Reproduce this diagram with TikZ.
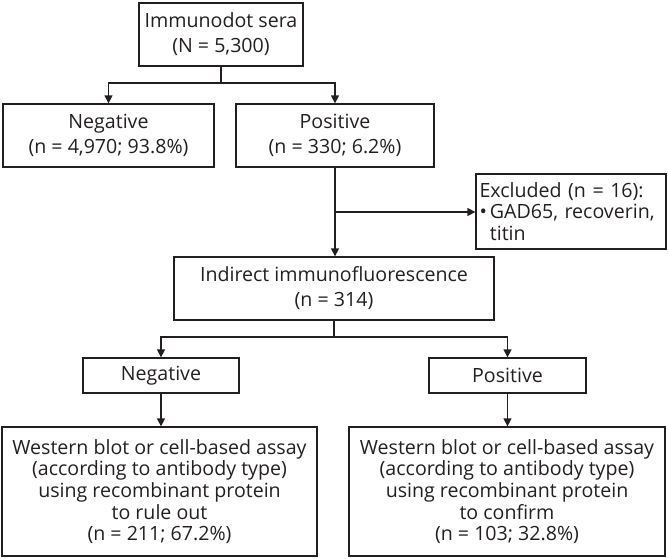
\documentclass[tikz,border=0pt]{standalone}
\usepackage{fontspec}
\setmainfont{Open Sans}
\usetikzlibrary{arrows.meta}
\definecolor{ink}{HTML}{231F20}
\begin{document}
\begin{tikzpicture}[x=1pt,y=-1pt,
  box/.style={draw=ink, line width=1.3pt, inner sep=0pt, align=center, text=ink,
    font=\fontsize{19.6}{25}\selectfont},
  bigbox/.style={box, font=\fontsize{19.6}{21.7}\selectfont},
  conn/.style={draw=ink, line width=1.3pt},
  arr/.style={conn, -{Triangle[width=8pt,length=8pt]}}
]
\useasboundingbox (0,0) rectangle (668,558);

\node[box, minimum width=164pt, minimum height=63pt] (top) at (221,34.5) {Immunodot sera\\(N = 5,300)};
\node[box, minimum width=211pt, minimum height=63pt] (neg1) at (108.5,135.5) {Negative\\(n = 4,970; 93.8\%)};
\node[box, minimum width=198pt, minimum height=63pt] (pos1) at (335,135.5) {Positive\\(n = 330; 6.2\%)};
\node[box, minimum width=190pt, minimum height=75pt, align=left, text width=183pt,
  font=\fontsize{19.6}{22}\selectfont] (exc) at (571,211.5)
  {Excluded (n = 16):\\[-1pt]•\hspace{3pt}GAD65, recoverin,\\\phantom{•}\hspace{3pt}titin};
\node[box, minimum width=320pt, minimum height=63pt] (ind) at (334,288.5) {Indirect immunofluorescence\\(n = 314)};
\node[box, minimum width=156pt, minimum height=35pt] (neg2) at (161,375.5) {Negative};
\node[box, minimum width=157pt, minimum height=35pt] (pos2) at (507.5,375.5) {Positive};
\node[bigbox, minimum width=315pt, minimum height=129pt] (botL) at (159.5,491.5)
  {Western blot or cell-based assay\\(according to antibody type)\\using recombinant protein\\to rule out\\(n = 211; 67.2\%)};
\node[bigbox, minimum width=316pt, minimum height=129pt] (botR) at (507,491.5)
  {Western blot or cell-based assay\\(according to antibody type)\\using recombinant protein\\to confirm\\(n = 103; 32.8\%)};

\coordinate (b1) at (221,83);
\draw[conn] (top.south) -- (b1);
\draw[arr] (b1) -| (neg1.north);
\draw[arr] (b1) -| (pos1.north);

\coordinate (j) at (335,212);
\draw[arr] (pos1.south) -- (ind.north -| pos1.south);
\draw[arr] (j) -- (exc.west |- j);

\coordinate (b2) at (334,337);
\draw[conn] (ind.south) -- (b2);
\draw[arr] (b2) -| (neg2.north);
\draw[arr] (b2) -| (pos2.north);

\draw[arr] (neg2.south) -- (neg2.south |- botL.north);
\draw[arr] (pos2.south) -- (pos2.south |- botR.north);
\end{tikzpicture}
\end{document}
